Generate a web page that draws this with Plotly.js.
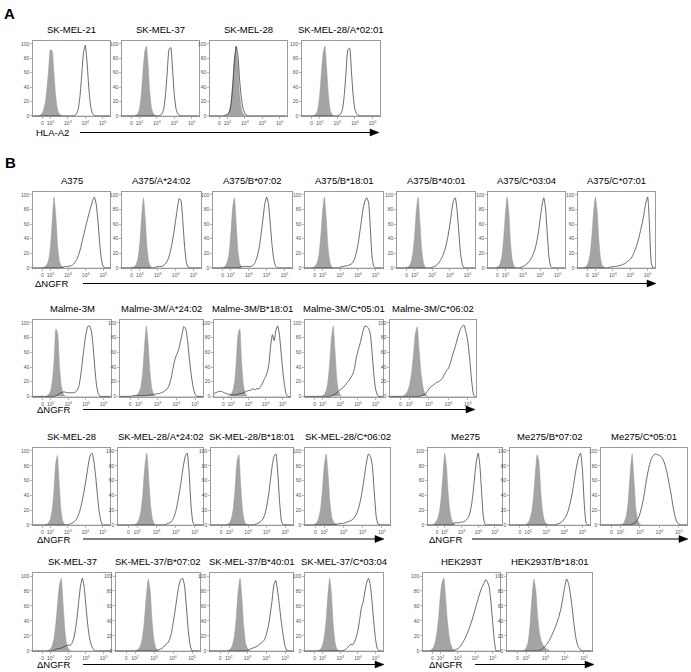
<!DOCTYPE html>
<html>
<head>
<meta charset="utf-8">
<script src="https://cdn.plot.ly/plotly-3.0.1.min.js"></script>
<style>html,body{margin:0;padding:0;background:#fff}#chart{width:691px;height:672px}</style>
</head>
<body>
<div id="chart"></div>
<script>
// ---------- DATA ----------
// bin centres on the display scale (0.54 = "0", 1 = 10^2, 2 = 10^3, 3 = 10^4, 4 = 10^5)
const BINS = [0,0.1,0.2,0.3,0.4,0.5,0.6,0.7,0.8,0.9, 1,1.1,1.2,1.3,1.4,1.5,1.6,1.7,1.8,1.9, 2,2.1,2.2,2.3,2.4,2.5,2.6,2.7,2.8,2.9, 3,3.1,3.2,3.3,3.4,3.5,3.6,3.7,3.8,3.9, 4,4.1,4.2,4.3,4.4];
const X_TICK_LABELS = ["0","10<sup>2</sup>","10<sup>3</sup>","10<sup>4</sup>","10<sup>5</sup>"];
const Y_TICK_LABELS = [0,20,40,60,80,100];

const TITLES_A = ["SK-MEL-21","SK-MEL-37","SK-MEL-28","SK-MEL-28/A*02:01"];
const TITLES_B = ["A375","A375/A*24:02","A375/B*07:02","A375/B*18:01","A375/B*40:01","A375/C*03:04","A375/C*07:01"];
const TITLES_C = ["Malme-3M","Malme-3M/A*24:02","Malme-3M/B*18:01","Malme-3M/C*05:01","Malme-3M/C*06:02"];
const TITLES_D = ["SK-MEL-28","SK-MEL-28/A*24:02","SK-MEL-28/B*18:01","SK-MEL-28/C*06:02"];
const TITLES_E = ["Me275","Me275/B*07:02","Me275/C*05:01"];
const TITLES_F = ["SK-MEL-37","SK-MEL-37/B*07:02","SK-MEL-37/B*40:01","SK-MEL-37/C*03:04"];
const TITLES_G = ["HEK293T","HEK293T/B*18:01"];

// % of max, control (grey filled) and stained (open line)
const A1_ctrl  = [0,0,0,0,1,3,8,18,38,65, 92,90,60,28,10,3,1,0,0,0, 0,0,0,0,0,0,0,0,0,0, 0,0,0,0,0,0,0,0,0,0, 0,0,0,0,0];
const A1_stain = [0,0,0,0,0,0,0,0,0,0, 0,0,0,0,0,0,0,0,0,0, 0,0,0,0,1,3,10,28,58,88, 98,75,40,15,4,1,0,0,0,0, 0,0,0,0,0];
const A2_ctrl  = [0,0,0,0,0,0,0,0,1,3, 10,28,60,88,97,70,32,10,3,1, 0,0,0,0,0,0,0,0,0,0, 0,0,0,0,0,0,0,0,0,0, 0,0,0,0,0];
const A2_stain = [0,0,0,0,0,0,0,0,0,0, 0,0,0,0,0,0,0,0,0,0, 0,0,1,3,10,30,62,92,95,65, 30,10,3,1,0,0,0,0,0,0, 0,0,0,0,0];
const A3_ctrl  = [0,0,0,0,0,0,0,0,0,1, 2,6,18,45,80,95,70,30,10,3, 1,0,0,0,0,0,0,0,0,0, 0,0,0,0,0,0,0,0,0,0, 0,0,0,0,0];
const A3_stain = [0,0,0,0,0,0,0,0,0,1, 2,5,15,40,75,97,85,50,25,10, 4,1,0,0,0,0,0,0,0,0, 0,0,0,0,0,0,0,0,0,0, 0,0,0,0,0];
const A4_ctrl  = [0,0,0,0,0,0,0,1,3,10, 28,60,88,97,65,28,8,2,0,0, 0,0,0,0,0,0,0,0,0,0, 0,0,0,0,0,0,0,0,0,0, 0,0,0,0,0];
const A4_stain = [0,0,0,0,0,0,0,0,0,0, 0,0,0,0,0,0,0,0,0,0, 0,1,3,10,30,62,92,94,62,28, 9,3,1,0,0,0,0,0,0,0, 0,0,0,0,0];

const B1_ctrl  = [0,0,0,0,0,0,1,2,5,12, 30,65,97,72,32,10,3,1,0,0, 0,0,0,0,0,0,0,0,0,0, 0,0,0,0,0,0,0,0,0,0, 0,0,0,0,0];
const B1_stain = [0,0,0,0,0,0,0,0,0,0, 0,0,0,0,0,0,0,1,2,2, 2,3,3,5,8,12,18,26,36,46, 56,66,75,84,92,97,88,65,35,12, 2,0,0,0,0];
const B2_ctrl  = [0,0,0,0,0,0,1,2,5,14, 35,70,96,68,28,8,2,0,0,0, 0,0,0,0,0,0,0,0,0,0, 0,0,0,0,0,0,0,0,0,0, 0,0,0,0,0];
const B2_stain = [0,0,0,0,0,0,0,0,0,0, 0,0,0,0,0,0,0,0,0,1, 2,2,2,3,5,8,13,22,34,48, 65,82,95,92,65,30,8,1,0,0, 0,0,0,0,0];
const B3_ctrl  = [0,0,0,0,0,0,1,3,8,20, 48,82,96,60,22,6,1,0,0,0, 0,0,0,0,0,0,0,0,0,0, 0,0,0,0,0,0,0,0,0,0, 0,0,0,0,0];
const B3_stain = [0,0,0,0,0,0,0,0,0,0, 0,0,0,0,0,1,2,2,2,2, 2,2,3,5,10,18,30,48,68,88, 97,88,62,32,12,3,0,0,0,0, 0,0,0,0,0];
const B4_ctrl  = [0,0,0,0,0,1,3,8,20,45, 78,97,70,30,9,2,0,0,0,0, 0,0,0,0,0,0,0,0,0,0, 0,0,0,0,0,0,0,0,0,0, 0,0,0,0,0];
const B4_stain = [0,0,0,0,0,0,0,0,0,0, 0,0,0,0,0,0,0,0,0,0, 1,2,2,3,3,4,5,7,12,20, 32,48,65,82,92,96,90,55,15,2, 0,0,0,0,0];
const B5_ctrl  = [0,0,0,0,0,0,1,3,8,20, 45,80,97,62,25,7,1,0,0,0, 0,0,0,0,0,0,0,0,0,0, 0,0,0,0,0,0,0,0,0,0, 0,0,0,0,0];
const B5_stain = [0,0,0,0,0,0,0,0,0,0, 0,0,0,0,0,0,0,0,0,0, 1,2,3,5,8,12,17,24,33,45, 60,78,92,96,80,50,20,5,0,0, 0,0,0,0,0];
const B6_ctrl  = [0,0,0,0,0,1,2,6,16,40, 75,97,75,32,10,2,0,0,0,0, 0,0,0,0,0,0,0,0,0,0, 0,0,0,0,0,0,0,0,0,0, 0,0,0,0,0];
const B6_stain = [0,0,0,0,0,0,0,0,0,0, 0,0,0,0,0,0,0,0,0,1, 2,3,5,7,10,14,19,26,36,50, 68,86,96,82,48,15,2,0,0,0, 0,0,0,0,0];
const B7_ctrl  = [0,0,0,0,1,3,8,20,45,78, 97,78,38,12,3,1,0,0,0,0, 0,0,0,0,0,0,0,0,0,0, 0,0,0,0,0,0,0,0,0,0, 0,0,0,0,0];
const B7_stain = [0,0,0,0,0,0,0,0,0,0, 0,0,0,0,0,0,0,0,1,1, 2,2,2,3,3,4,5,6,8,10, 12,15,20,26,33,42,52,63,76,90, 97,60,8,0,0];

const C1_ctrl  = [0,0,0,0,0,0,0,0,1,3, 8,22,50,92,85,42,15,4,1,0, 0,0,0,0,0,0,0,0,0,0, 0,0,0,0,0,0,0,0,0,0, 0,0,0,0,0];
const C1_stain = [0,0,0,0,0,0,0,0,0,0, 0,0,0,1,2,4,5,6,6,5, 5,5,5,5,6,8,14,28,48,68, 85,95,96,90,70,40,15,4,0,0, 0,0,0,0,0];
const C2_ctrl  = [0,0,0,0,0,0,0,0,1,2, 5,12,30,65,96,72,32,10,2,0, 0,0,0,0,0,0,0,0,0,0, 0,0,0,0,0,0,0,0,0,0, 0,0,0,0,0];
const C2_stain = [0,0,0,0,0,0,0,1,1,1, 1,1,1,1,1,2,2,2,3,3, 4,4,5,6,8,10,14,22,35,48, 56,62,72,84,95,92,75,50,28,12, 3,0,0,0,0];
const C3_ctrl  = [0,0,0,0,0,0,0,0,0,1, 3,8,20,48,85,92,50,18,5,1, 0,0,0,0,0,0,0,0,0,0, 0,0,0,0,0,0,0,0,0,0, 0,0,0,0,0];
const C3_stain = [4,5,6,7,7,6,5,4,3,3, 2,2,2,2,3,4,4,5,6,7, 8,8,10,10,9,11,10,13,17,22, 27,33,45,70,84,76,90,96,85,60, 35,15,3,0,0];
const C4_ctrl  = [0,0,0,0,0,0,0,0,0,0, 1,3,8,20,45,80,96,62,25,7, 2,0,0,0,0,0,0,0,0,0, 0,0,0,0,0,0,0,0,0,0, 0,0,0,0,0];
const C4_stain = [0,0,0,0,0,0,0,0,0,0, 0,0,0,0,0,1,2,3,5,7, 9,11,13,16,19,22,26,30,38,52, 62,70,80,90,96,95,93,85,60,30, 10,2,0,0,0];
const C5_ctrl  = [0,0,0,0,0,0,0,1,3,7, 15,30,55,85,95,62,30,12,4,1, 0,0,0,0,0,0,0,0,0,0, 0,0,0,0,0,0,0,0,0,0, 0,0,0,0,0];
const C5_stain = [0,0,0,0,0,0,0,0,0,0, 0,0,0,0,0,0,1,2,3,6, 10,13,15,17,19,20,22,25,30,35, 38,45,55,63,72,82,90,95,97,88, 75,50,20,2,0];

const D1_ctrl  = [0,0,0,0,0,0,0,0,1,3, 8,20,45,82,94,58,22,6,1,0, 0,0,0,0,0,0,0,0,0,0, 0,0,0,0,0,0,0,0,0,0, 0,0,0,0,0];
const D1_stain = [0,0,0,0,0,0,0,0,0,0, 0,0,0,0,0,0,0,0,0,0, 0,1,2,3,5,8,13,20,30,42, 55,70,85,95,97,85,65,40,18,5, 0,0,0,0,0];
const D2_ctrl  = [0,0,0,0,0,0,0,0,0,1, 3,8,20,45,80,97,62,25,7,1, 0,0,0,0,0,0,0,0,0,0, 0,0,0,0,0,0,0,0,0,0, 0,0,0,0,0];
const D2_stain = [0,0,0,0,0,0,0,0,0,0, 0,0,0,0,0,0,0,0,0,0, 0,0,0,0,0,1,2,3,5,10, 18,30,45,62,80,93,97,70,25,3, 0,0,0,0,0];
const D3_ctrl  = [0,0,0,0,0,0,0,0,0,1, 3,9,22,50,85,95,55,20,5,1, 0,0,0,0,0,0,0,0,0,0, 0,0,0,0,0,0,0,0,0,0, 0,0,0,0,0];
const D3_stain = [0,0,0,0,0,0,0,0,0,0, 0,0,0,0,0,0,0,0,0,0, 0,0,0,0,1,2,3,5,8,14, 25,40,60,80,93,96,70,30,5,0, 0,0,0,0,0];
const D4_ctrl  = [0,0,0,0,0,1,3,8,20,45, 80,96,68,30,10,3,1,0,0,0, 0,0,0,0,0,0,0,0,0,0, 0,0,0,0,0,0,0,0,0,0, 0,0,0,0,0];
const D4_stain = [0,0,0,0,0,0,0,0,0,0, 0,0,0,0,0,0,1,1,2,2, 2,3,4,5,6,8,11,16,24,35, 50,68,85,96,93,80,45,12,1,0, 0,0,0,0,0];

const E1_ctrl  = [0,0,0,0,2,5,10,20,40,70, 97,80,45,20,8,3,1,0,0,0, 0,0,0,0,0,0,0,0,0,0, 0,0,0,0,0,0,0,0,0,0, 0,0,0,0,0];
const E1_stain = [0,0,0,0,0,0,0,0,0,0, 0,0,0,0,0,1,3,3,3,3, 4,4,5,7,10,16,27,45,68,88, 97,80,45,12,1,0,0,0,0,0, 0,0,0,0,0];
const E2_ctrl  = [0,0,0,0,0,0,0,0,0,1, 3,8,18,38,70,95,85,45,18,6, 2,0,0,0,0,0,0,0,0,0, 0,0,0,0,0,0,0,0,0,0, 0,0,0,0,0];
const E2_stain = [0,0,0,0,0,0,0,0,0,0, 0,0,0,0,0,0,0,0,0,0, 0,0,0,0,0,0,1,2,3,5, 8,12,18,27,38,52,68,82,92,97, 75,30,3,0,0];
const E3_ctrl  = [0,0,0,0,0,0,0,0,0,0, 0,1,4,12,32,70,96,60,20,5, 1,0,0,0,0,0,0,0,0,0, 0,0,0,0,0,0,0,0,0,0, 0,0,0,0,0];
const E3_stain = [0,0,0,0,0,0,0,0,0,0, 0,0,0,0,0,0,1,2,4,8, 15,25,38,55,70,82,90,94,96,95, 94,92,88,80,70,56,42,25,12,4, 1,0,0,0,0];

const F1_ctrl  = [0,0,0,0,0,0,0,0,0,1, 3,8,18,38,65,88,97,65,30,10, 3,1,0,0,0,0,0,0,0,0, 0,0,0,0,0,0,0,0,0,0, 0,0,0,0,0];
const F1_stain = [0,0,0,0,0,0,0,0,0,0, 0,0,1,2,3,3,4,5,6,7, 8,7,10,16,28,45,68,88,97,85, 60,35,18,8,3,0,0,0,0,0, 0,0,0,0,0];
const F2_ctrl  = [0,0,0,0,0,0,0,0,0,0, 0,1,3,8,20,42,75,96,80,40, 14,4,1,0,0,0,0,0,0,0, 0,0,0,0,0,0,0,0,0,0, 0,0,0,0,0];
const F2_stain = [0,0,0,0,0,0,0,0,0,0, 0,0,0,0,0,0,0,0,0,0, 0,0,1,2,3,5,8,10,14,22, 36,52,70,86,95,97,88,60,28,8, 0,0,0,0,0];
const F3_ctrl  = [0,0,0,0,0,0,0,0,0,0, 1,3,8,20,45,80,97,70,32,10, 3,1,0,0,0,0,0,0,0,0, 0,0,0,0,0,0,0,0,0,0, 0,0,0,0,0];
const F3_stain = [0,0,0,0,0,0,0,0,0,0, 0,0,0,0,0,0,0,0,0,0, 1,2,3,4,5,6,8,10,12,15, 22,32,48,66,88,94,80,60,38,20, 6,0,0,0,0];
const F4_ctrl  = [0,0,0,0,0,0,0,0,1,3, 8,20,42,75,97,75,35,12,3,1, 0,0,0,0,0,0,0,0,0,0, 0,0,0,0,0,0,0,0,0,0, 0,0,0,0,0];
const F4_stain = [0,0,0,0,0,0,0,0,0,0, 0,0,0,0,0,0,0,0,0,0, 0,0,1,2,4,7,9,8,12,18, 28,42,58,66,80,92,97,88,65,38, 15,3,0,0,0];

const G1_ctrl  = [0,0,0,0,0,2,5,12,25,45, 75,92,97,70,40,20,8,3,1,0, 0,0,0,0,0,0,0,0,0,0, 0,0,0,0,0,0,0,0,0,0, 0,0,0,0,0];
const G1_stain = [0,0,0,0,0,0,0,0,0,0, 0,0,0,0,0,0,0,0,1,2, 3,5,8,12,16,21,27,33,40,48, 56,64,72,80,86,90,95,92,85,65, 38,12,0,0,0];
const G2_ctrl  = [0,0,0,0,0,0,0,0,0,1, 4,12,35,72,96,80,45,22,12,7, 4,2,1,0,0,0,0,0,0,0, 0,0,0,0,0,0,0,0,0,0, 0,0,0,0,0];
const G2_stain = [0,0,0,0,0,0,0,0,0,0, 0,0,0,0,0,0,0,1,2,4, 7,10,14,19,25,31,38,46,56,70, 85,96,90,75,55,32,15,6,2,0, 0,0,0,0,0];

// ---------- LAYOUT (pixel boxes: left, right, top, bottom) ----------
const W = 691, H = 672;
const X_TICK_POS = [0.54, 1, 2, 3, 4];
const rowA = {top: 41, bottom: 116.5}, rowB = {top: 192, bottom: 268.5}, rowC = {top: 320, bottom: 397},
      rowD = {top: 448, bottom: 525.5}, rowF = {top: 573, bottom: 651.5};
const panels = [
  [TITLES_A[0], A1_ctrl, A1_stain, 33, 110, rowA],
  [TITLES_A[1], A2_ctrl, A2_stain, 122, 199, rowA],
  [TITLES_A[2], A3_ctrl, A3_stain, 210, 287, rowA],
  [TITLES_A[3], A4_ctrl, A4_stain, 302, 380, rowA],
  [TITLES_B[0], B1_ctrl, B1_stain, 33, 110.5, rowB],
  [TITLES_B[1], B2_ctrl, B2_stain, 122, 201, rowB],
  [TITLES_B[2], B3_ctrl, B3_stain, 213, 292, rowB],
  [TITLES_B[3], B4_ctrl, B4_stain, 305, 383, rowB],
  [TITLES_B[4], B5_ctrl, B5_stain, 397, 475, rowB],
  [TITLES_B[5], B6_ctrl, B6_stain, 488, 565, rowB],
  [TITLES_B[6], B7_ctrl, B7_stain, 578, 655, rowB],
  [TITLES_C[0], C1_ctrl, C1_stain, 33, 111, rowC],
  [TITLES_C[1], C2_ctrl, C2_stain, 120, 203, rowC],
  [TITLES_C[2], C3_ctrl, C3_stain, 214, 290, rowC],
  [TITLES_C[3], C4_ctrl, C4_stain, 305, 383, rowC],
  [TITLES_C[4], C5_ctrl, C5_stain, 390, 476, rowC],
  [TITLES_D[0], D1_ctrl, D1_stain, 33, 110, rowD],
  [TITLES_D[1], D2_ctrl, D2_stain, 118, 203, rowD],
  [TITLES_D[2], D3_ctrl, D3_stain, 211, 293, rowD],
  [TITLES_D[3], D4_ctrl, D4_stain, 305, 390, rowD],
  [TITLES_E[0], E1_ctrl, E1_stain, 428, 502, rowD],
  [TITLES_E[1], E2_ctrl, E2_stain, 510, 590, rowD],
  [TITLES_E[2], E3_ctrl, E3_stain, 601, 687, rowD],
  [TITLES_F[0], F1_ctrl, F1_stain, 33, 111, rowF],
  [TITLES_F[1], F2_ctrl, F2_stain, 116, 200, rowF],
  [TITLES_F[2], F3_ctrl, F3_stain, 210, 293, rowF],
  [TITLES_F[3], F4_ctrl, F4_stain, 305, 383, rowF],
  [TITLES_G[0], G1_ctrl, G1_stain, 423, 500, rowF],
  [TITLES_G[1], G2_ctrl, G2_stain, 507, 592, rowF]
];

const px = v => v / W, py = v => 1 - v / H;
const FONT = 'Liberation Sans, Arial, Helvetica, sans-serif';
const traces = [];
const layout = {
  width: W, height: H, margin: {l: 0, r: 0, t: 0, b: 0},
  paper_bgcolor: '#fff', plot_bgcolor: '#fff', showlegend: false,
  font: {family: FONT, color: '#000'}, annotations: [], shapes: []
};

panels.forEach((p, i) => {
  const [title, ctrl, stain, l, r, row] = p;
  const n = i + 1, sfx = n === 1 ? '' : String(n);
  traces.push({x: BINS, y: ctrl, xaxis: 'x' + sfx, yaxis: 'y' + sfx, type: 'scatter', mode: 'lines',
    fill: 'tozeroy', fillcolor: '#a4a4a4', line: {color: '#999999', width: 0.5, shape: 'spline', smoothing: 0.5}, hoverinfo: 'skip'});
  traces.push({x: BINS, y: stain, xaxis: 'x' + sfx, yaxis: 'y' + sfx, type: 'scatter', mode: 'lines',
    line: {color: '#2a2a2a', width: 0.7, shape: 'spline', smoothing: 0.5}, hoverinfo: 'skip'});
  const common = {showline: true, mirror: true, linecolor: '#707070', linewidth: 0.7, ticks: 'outside',
    ticklen: 2, tickwidth: 0.5, tickcolor: '#707070', tickfont: {size: 5, color: '#555', family: FONT},
    showgrid: false, zeroline: false, fixedrange: true, automargin: false};
  layout['xaxis' + sfx] = Object.assign({}, common, {domain: [px(l), px(r)], anchor: 'y' + sfx,
    range: [0, 4.42], tickmode: 'array', tickvals: X_TICK_POS, ticktext: X_TICK_LABELS});
  layout['yaxis' + sfx] = Object.assign({}, common, {domain: [py(row.bottom), py(row.top)], anchor: 'x' + sfx,
    range: [-0.8, 104], tickmode: 'array', tickvals: Y_TICK_LABELS, ticktext: Y_TICK_LABELS.map(String)});
  layout.annotations.push({text: title, xref: 'paper', yref: 'paper', x: px((l + r) / 2), y: py(row.top - 4),
    xanchor: 'center', yanchor: 'bottom', showarrow: false, font: {size: 9.5, family: FONT, color: '#000'}});
});

// panel letters
layout.annotations.push({text: '<b>A</b>', xref: 'paper', yref: 'paper', x: px(2), y: py(13), xanchor: 'left', yanchor: 'middle', showarrow: false, font: {size: 15, family: FONT}});
layout.annotations.push({text: '<b>B</b>', xref: 'paper', yref: 'paper', x: px(3), y: py(162), xanchor: 'left', yanchor: 'middle', showarrow: false, font: {size: 15, family: FONT}});

// axis labels with long arrows
const arrows = [
  ['HLA-A2', 34, 132.5, 80, 379],
  ['\u0394NGFR', 33, 283.5, 83, 656],
  ['\u0394NGFR', 35, 409.5, 83, 475],
  ['\u0394NGFR', 35, 539, 83, 384],
  ['\u0394NGFR', 427, 539, 472, 688],
  ['\u0394NGFR', 35, 664.5, 83, 384],
  ['\u0394NGFR', 427, 664.5, 475, 594]
];
arrows.forEach(a => {
  const [lab, tx, y, x0, x1] = a;
  layout.annotations.push({text: lab, xref: 'paper', yref: 'paper', x: px(tx), y: py(y), xanchor: 'left', yanchor: 'middle',
    showarrow: false, font: {size: 9.5, family: FONT, color: '#000'}});
  layout.shapes.push({type: 'line', xref: 'paper', yref: 'paper', x0: px(x0), x1: px(x1 - 6), y0: py(y), y1: py(y),
    line: {color: '#000', width: 1.2}});
  layout.shapes.push({type: 'path', xref: 'paper', yref: 'paper',
    path: `M ${px(x1)} ${py(y)} L ${px(x1 - 9)} ${py(y - 3.5)} L ${px(x1 - 9)} ${py(y + 3.5)} Z`,
    fillcolor: '#000', line: {color: '#000', width: 0.5}});
});

Plotly.newPlot('chart', traces, layout, {staticPlot: true, displayModeBar: false});
</script>
</body>
</html>
